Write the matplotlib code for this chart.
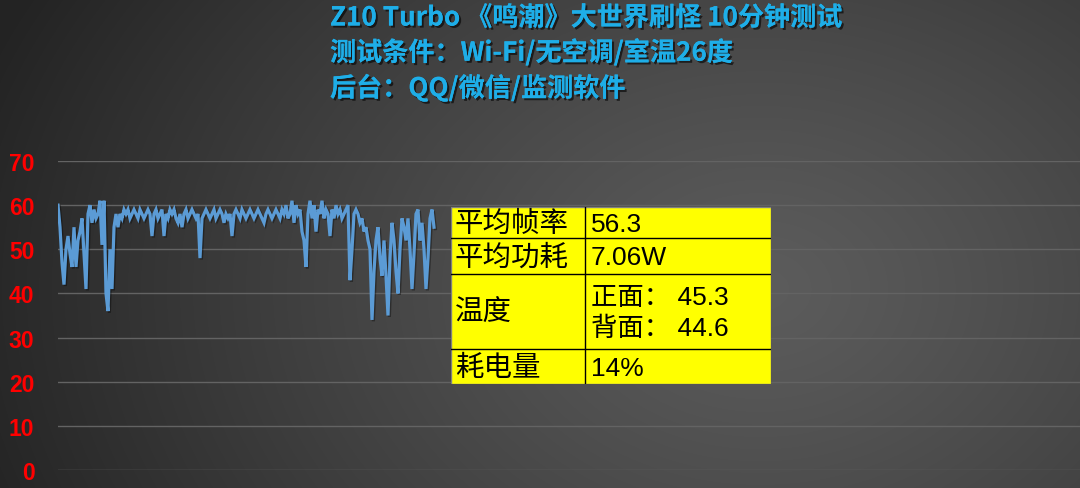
import numpy as np
import matplotlib.pyplot as plt
import matplotlib.patheffects as pe

plt.rcParams['font.family'] = ['Liberation Sans', 'Noto Sans CJK SC']

# frame rate samples
seg_a = [60, 55, 47, 42, 50, 53, 49, 46, 55, 46, 52, 54, 57, 49, 41, 58, 60, 56, 59, 57,
         58, 61, 51, 61, 40, 36, 50, 41, 55, 58, 55]
seg_b = [58, 57, 59, 58, 59, 57, 58, 59, 58, 57, 59, 58, 57, 58, 59, 58, 53, 58, 59, 57,
         58, 59, 53, 58, 57, 59, 58, 59, 57, 56, 58, 55, 58, 59, 57, 58, 59, 58, 57, 58]
seg_c = [48, 57, 58, 59, 58, 57, 58, 59, 57, 58, 59, 58, 56, 58, 57, 58, 53, 58, 59, 58,
         57, 59, 58, 57, 58, 59, 58, 57, 58, 59, 58, 57, 56, 58, 59, 58, 57, 58, 59, 58,
         57, 59, 58, 60, 57, 58, 61, 56, 60, 58]
seg_d = [59, 54, 52, 46, 58, 61, 57, 60, 54, 59, 58, 61, 57, 59, 58, 53, 59, 57, 60, 58,
         59, 57, 58, 59, 60]
seg_e = [43, 50, 58, 59, 58, 56, 57, 54, 55, 52, 50, 34, 45, 52, 55, 48, 44, 52, 44, 35,
         48, 56, 52, 45, 40, 50, 57, 55, 52, 57, 50, 41, 49, 58, 59, 52, 56, 50, 41, 48,
         57, 59, 55]
fps = seg_a + seg_b + seg_c + seg_d + seg_e

yticks = [0, 10, 20, 30, 40, 50, 60, 70]

title_lines = ['Z10 Turbo 《鸣潮》大世界刷怪 10分钟测试',
               '测试条件：Wi-Fi/无空调/室温26度',
               '后台：QQ/微信/监测软件']

row_labels = ['平均帧率', '平均功耗', '温度', '耗电量']
row_values = ['56.3', '7.06W', '正面： 45.3\n背面： 44.6', '14%']

W, H = 1080, 489
fig = plt.figure(figsize=(W / 100, H / 100), dpi=100)

# radial gradient background
bg = fig.add_axes([0, 0, 1, 1], zorder=-5)
yy, xx = np.mgrid[0:H, 0:W]
r = np.sqrt(((xx - 760) / 820.0) ** 2 + ((yy - 290) / 620.0) ** 2)
r = np.clip(r, 0, 1)
c0, c1 = 0x5c / 255, 0x24 / 255
img = c0 + (c1 - c0) * r ** 1.2
bg.imshow(np.dstack([img, img, img]), aspect='auto', extent=[0, 1, 0, 1])
bg.axis('off')

ax = fig.add_axes([58 / W, (H - 471) / H, (W - 58) / W, (471 - 162) / H])
ax.set_facecolor('none')
x = np.arange(len(fps))
ax.plot(x, fps, color='#5B9BD5', lw=2.3, solid_joinstyle='miter',
        path_effects=[pe.SimpleLineShadow(offset=(1, -1), shadow_color='black', alpha=0.35),
                      pe.Normal()])
ax.set_xlim(0, (W - 58) / 2)
ax.set_ylim(0, 70)
ax.set_yticks(yticks)
ax.set_yticklabels([str(v) for v in yticks], color='#ff0000', fontsize=16.5,
                   fontweight='bold', family=['Liberation Sans'])
ax.tick_params(axis='y', length=0, pad=17)
ax.set_xticks([])
ax.grid(axis='y', color='#636363', lw=1)
for s in ax.spines.values():
    s.set_visible(False)

# title block
shadow = [pe.withSimplePatchShadow(offset=(1.5, -1.5), shadow_rgbFace='black', alpha=0.6),
          pe.Normal()]
for i, t in enumerate(title_lines):
    fig.text(330 / W, 1 - (19 + 35 * i) / H, t, color='#1EAEE8', fontsize=18.8,
             fontweight='bold', family=['Noto Sans CJK SC'], ha='left', va='center',
             path_effects=shadow)

# info table
tx0, tx1, tdiv = 451, 771, 585
rows = [208, 239, 275, 350, 385]
tab = fig.add_axes([tx0 / W, (H - rows[-1]) / H, (tx1 - tx0) / W, (rows[-1] - rows[0]) / H])
tab.set_xlim(tx0, tx1)
tab.set_ylim(rows[-1], rows[0])
tab.axis('off')
tab.add_patch(plt.Rectangle((tx0, rows[0]), tx1 - tx0, rows[-1] - rows[0],
                            facecolor='#ffff00', edgecolor='#808080', lw=1))
for yb in rows[1:-1]:
    tab.plot([tx0, tx1], [yb, yb], color='black', lw=1)
tab.plot([tdiv, tdiv], [rows[0], rows[-1]], color='black', lw=1)
for i in range(4):
    yc = (rows[i] + rows[i + 1]) / 2 + 1
    tab.text(455, yc, row_labels[i], fontsize=20.5, color='black', ha='left', va='center',
             clip_on=False)
    tab.text(591, yc, row_values[i], fontsize=19, color='black', ha='left', va='center',
             linespacing=1.3, clip_on=False)

fig.savefig('out.png', dpi=100)
